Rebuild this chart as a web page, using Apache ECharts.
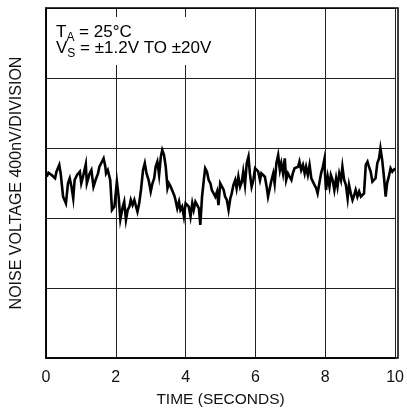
<!DOCTYPE html>
<html>
<head>
<meta charset="utf-8">
<script src="https://cdn.jsdelivr.net/npm/echarts@6/dist/echarts.min.js"></script>
<style>
html,body{margin:0;padding:0;background:#fff;}
#chart{width:407px;height:416px;}
</style>
</head>
<body>
<div id="chart"></div>
<script>
// Time in seconds
var times = [
0.02,0.07,0.16,0.26,0.30,0.38,0.42,0.49,0.57,0.63,0.68,0.73,0.78,0.82,0.89,0.97,1.01,1.06,1.14,1.17,
1.25,1.30,1.36,1.42,1.49,1.53,1.58,1.65,1.70,1.72,1.77,1.84,1.89,1.96,2.03,2.08,2.13,2.20,2.24,2.29,
2.34,2.39,2.43,2.48,2.53,2.58,2.62,2.67,2.72,2.78,2.83,2.88,2.94,3.00,3.05,3.10,3.14,3.19,3.24,3.29,
3.33,3.38,3.43,3.48,3.52,3.57,3.62,3.67,3.71,3.76,3.81,3.85,3.90,3.95,4.00,4.04,4.09,4.14,4.19,4.23,
4.28,4.33,4.38,4.42,4.47,4.52,4.56,4.61,4.66,4.71,4.75,4.80,4.85,4.90,4.94,
4.99,5.04,5.09,5.13,5.18,5.23,5.28,5.32,5.37,5.42,5.46,5.51,5.56,5.61,5.65,5.70,5.75,5.80,5.84,5.89,
5.94,5.99,6.03,6.08,6.13,6.17,6.22,6.27,6.32,6.36,6.41,6.46,6.51,6.55,6.60,6.65,6.70,6.74,6.79,6.84,
6.88,6.93,6.98,7.03,7.07,7.12,7.17,7.22,7.26,7.31,7.36,7.41,7.45,7.50,7.55,7.60,7.64,7.69,7.74,7.78,
7.83,7.88,7.93,7.97,8.02,8.07,8.12,8.16,8.21,8.26,8.31,8.35,8.40,8.45,8.49,8.54,8.59,8.64,8.68,8.73,
8.78,8.83,8.87,8.92,8.97,9.02,9.06,9.11,9.16,9.21,9.25,9.30,9.35,9.39,9.44,9.49,9.54,9.58,9.63,9.68,
9.73,9.77,9.82,9.87,9.92,9.96,10.00
];
// Noise voltage in nV (400 nV per division, 5 divisions)
var noise = [
1036,1059,1046,1027,1065,1103,1055,922,884,998,1027,979,912,1017,1046,1065,998,1036,1107,998,
1055,1074,979,1017,1055,1093,1113,1141,1093,1055,1074,1017,846,865,1008,922,792,865,893,789,
846,865,903,874,903,865,836,884,960,1074,1113,1055,1017,951,998,1027,1093,1122,1046,1151,
1189,1160,1093,970,998,979,970,932,903,855,893,846,865,808,884,893,865,808,884,846,
893,874,855,760,922,1017,1084,1065,1017,998,960,970,922,951,874,
998,979,960,922,903,846,912,941,989,1017,970,1036,979,1008,1065,989,1113,1151,1055,979,
1017,1084,1074,1065,1017,1055,1065,1036,979,922,912,1017,1055,998,1113,1160,1074,1113,1055,1141,
1017,1055,1065,1017,1055,1084,1074,1093,1122,1074,1103,1055,1093,1046,1103,1027,1017,989,970,941,
932,1055,1093,1132,960,1036,979,1046,1017,960,1027,979,1055,1017,1093,1017,989,912,989,941,
903,932,960,922,951,922,912,941,1103,1122,1093,1065,1008,998,1027,1113,1141,1198,1132,1036,
922,998,1036,1084,1065,1074,1084
];
var xTicks = [0, 2, 4, 6, 8, 10];
var xName = 'TIME (SECONDS)';
var yName = 'NOISE VOLTAGE 400nV/DIVISION';
var noteLine1 = ['T', 'A', ' = 25°C'];
var noteLine2 = ['V', 'S', ' = ±1.2V TO ±20V'];

var FONT = '"Liberation Sans", Arial, sans-serif';
var pts = times.map(function (t, i) { return [t, noise[i]]; });

var chart = echarts.init(document.getElementById('chart'), null, {renderer: 'canvas'});
var richStyles = {
  m: {fontSize: 17, fontFamily: FONT, color: '#111', lineHeight: 17, verticalAlign: 'top'},
  s: {fontSize: 12, fontFamily: FONT, color: '#111', lineHeight: 12, padding: [8, 0, 0, 0], verticalAlign: 'top'}
};
chart.setOption({
  animation: false,
  backgroundColor: '#fff',
  grid: {left: 46, right: 9, top: 8, bottom: 58, containLabel: false},
  xAxis: {
    type: 'value', min: 0, max: 10, interval: 2,
    name: xName, nameLocation: 'middle', nameGap: 34,
    nameTextStyle: {fontFamily: FONT, fontSize: 15.5, color: '#111'},
    axisLine: {show: true, lineStyle: {color: '#000', width: 1.5}},
    axisTick: {show: false},
    axisLabel: {
      fontFamily: FONT, fontSize: 16, color: '#111', margin: 12,
      formatter: function (v) { return xTicks.indexOf(v) >= 0 ? String(v) : ''; }
    },
    splitLine: {show: true, lineStyle: {color: '#222', width: 1}}
  },
  yAxis: {
    type: 'value', min: 0, max: 2000, interval: 400,
    name: yName, nameLocation: 'middle', nameGap: 21, nameRotate: 90,
    nameTextStyle: {fontFamily: FONT, fontSize: 16, color: '#111'},
    axisLine: {show: true, lineStyle: {color: '#000', width: 1.5}},
    axisTick: {show: false},
    axisLabel: {show: false},
    splitLine: {show: true, lineStyle: {color: '#222', width: 1}}
  },
  graphic: [
    {type: 'rect', z: 50, shape: {x: 48, y: 17, width: 172, height: 48}, style: {fill: '#fff'}},
    {type: 'rect', z: 60, silent: true, shape: {x: 46, y: 8, width: 352, height: 350},
     style: {fill: 'none', stroke: '#000', lineWidth: 1.5}},
    {type: 'text', z: 70, left: 56, top: 24, style: {
      text: '{m|' + noteLine1[0] + '}{s|' + noteLine1[1] + '}{m|' + noteLine1[2] + '}', rich: richStyles}},
    {type: 'text', z: 70, left: 56, top: 40, style: {
      text: '{m|' + noteLine2[0] + '}{s|' + noteLine2[1] + '}{m|' + noteLine2[2] + '}', rich: richStyles}}
  ],
  series: [{
    type: 'line', data: pts, showSymbol: false, symbol: 'none',
    lineStyle: {color: '#000', width: 2.6, join: 'miter'},
    z: 20
  }]
});
</script>
</body>
</html>
